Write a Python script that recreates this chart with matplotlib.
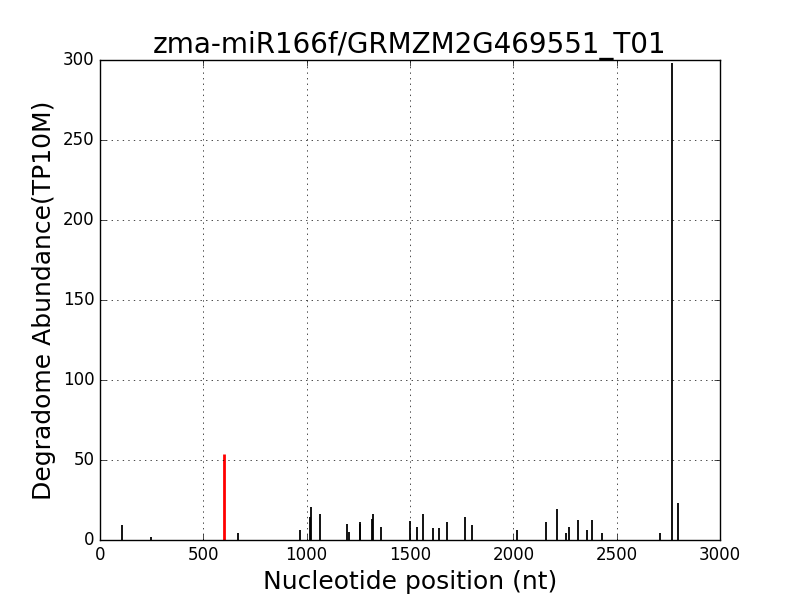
import matplotlib
matplotlib.use("Agg")
import matplotlib.pyplot as plt

plt.style.use("classic")

positions = [105, 247, 669, 968, 1016, 1019, 1066, 1197, 1207, 1256, 1259,
             1317, 1319, 1361, 1502, 1536, 1565, 1613, 1642, 1681, 1768, 1798,
             2019, 2158, 2213, 2256, 2271, 2315, 2358, 2382, 2431, 2711, 2766, 2795]
abundance = [9.2, 1.7, 4.2, 6.1, 14.6, 20.4, 16.2, 10.0, 4.8, 11.3, 10.0,
             12.9, 16.2, 7.9, 12.1, 7.9, 16.2, 7.3, 7.3, 11.0, 14.2, 9.2,
             6.0, 11.0, 19.2, 4.2, 7.9, 12.3, 6.0, 12.3, 4.2, 4.2, 298.0, 23.3]

target_pos = [600]
target_val = [53.5]

fig = plt.figure(figsize=(8, 6), dpi=100, facecolor="white")
ax = fig.add_subplot(111)
ax.vlines(positions, 0, abundance, colors="black", linewidth=1.3)
ax.vlines(target_pos, 0, target_val, colors="red", linewidth=2)
ax.set_xlim(0, 3000)
ax.set_ylim(0, 300)
ax.grid(True)
ax.set_title("zma-miR166f/GRMZM2G469551_T01", fontsize=20)
ax.set_xlabel("Nucleotide position (nt)", fontsize=18)
ax.set_ylabel("Degradome Abundance(TP10M)", fontsize=18)
fig.savefig("out.png", dpi=100, facecolor="white")
